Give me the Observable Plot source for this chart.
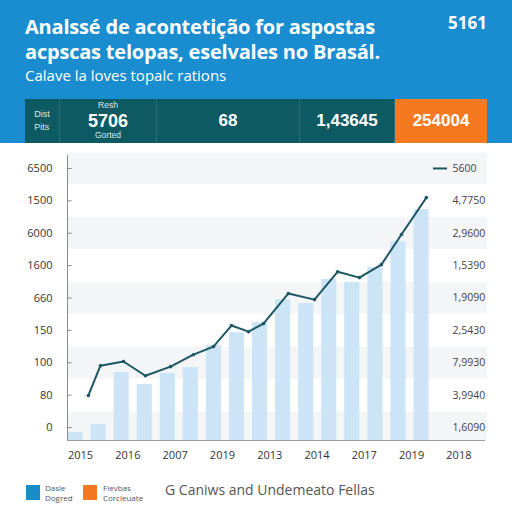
<!DOCTYPE html>
<html>
<head>
<meta charset="utf-8">
<script src="https://cdn.jsdelivr.net/npm/d3@7"></script>
<script src="https://cdn.jsdelivr.net/npm/@observablehq/plot@0.6"></script>
<style>
  html, body { margin: 0; padding: 0; background: #fff; }
  body { width: 512px; height: 512px; overflow: hidden; font-family: "Open Sans", "Liberation Sans", sans-serif; position: relative; }
  #header { position: absolute; left: 0; top: 0; width: 512px; height: 143px; background: #1a8dd0; }
  .t1 { position: absolute; left: 25px; color: #fff; font-weight: 700; font-size: 20px; white-space: nowrap; letter-spacing: -0.2px; }
  #sub { position: absolute; left: 25px; top: 65px; color: #fff; font-size: 15px; white-space: nowrap; }
  #num { position: absolute; left: 448px; top: 11px; color: #fff; font-weight: 700; font-size: 17px; }
  #stats { position: absolute; left: 25px; top: 99px; width: 462px; height: 44px; background: #0e5a63; }
  .cell { position: absolute; top: 0; height: 44px; display: flex; flex-direction: column; align-items: center; justify-content: center; color: #fff; border-right: 1px solid #2b7077; box-sizing: border-box; font-family: "Liberation Sans", Arial, sans-serif; }
  .small { font-size: 8.5px; line-height: 1.15; color: #d8ecee; }
  .big { font-size: 18px; font-weight: 700; line-height: 1.15; }
  #chart { position: absolute; left: 0; top: 143px; }
  #legend { position: absolute; left: 0; top: 478px; width: 512px; height: 34px; }
  .sw { position: absolute; top: 7px; width: 14px; height: 15px; }
  .lt { position: absolute; top: 5px; font-size: 8px; line-height: 10px; color: #555; }
  #lbig { position: absolute; left: 165px; top: 2px; font-size: 14px; color: #555; white-space: nowrap; }
</style>
</head>
<body>
<div id="header">
  <div class="t1" style="top:13px">Analssé de acontetição for aspostas</div>
  <div class="t1" style="top:38px">acpscas telopas, eselvales no Brasál.</div>
  <div id="sub">Calave la loves topalc rations</div>
  <div id="num">5161</div>
  <div id="stats"></div>
</div>
<div id="chart"></div>
<div id="legend">
  <div class="sw" style="left:26px;background:#1a8dc9"></div>
  <div class="lt" style="left:45px">Dasle<br>Dogred</div>
  <div class="sw" style="left:83px;background:#f47920"></div>
  <div class="lt" style="left:103px">Fievbas<br>Corcleuate</div>
  <div id="lbig">G Caniws and Undemeato Fellas</div>
</div>
<script>
// ---- data ----
const statCells = [
  {top: "Dist", main: "Pits", bottom: ""},
  {top: "Resh", main: "5706", bottom: "Gorted"},
  {top: "", main: "68", bottom: ""},
  {top: "", main: "1,43645", bottom: ""},
  {top: "", main: "254004", bottom: ""}
];
const statWidths = [35, 97, 143, 95, 92];
const barValues = [250, 490, 2100, 1730, 2070, 2250, 2930, 3330, 3640, 4350, 4230, 4970, 4880, 5340, 6140, 7130];
const lineX = [1.06, 1.58, 2.58, 3.53, 4.62, 5.61, 6.48, 7.26, 8.0, 8.65, 9.73, 10.86, 11.86, 12.81, 13.76, 14.63, 15.71];
const lineValues = [1390, 2310, 2440, 2000, 2280, 2650, 2900, 3550, 3360, 3610, 4540, 4350, 5210, 5030, 5430, 6360, 7500];
const leftTickLabels = ["0", "80", "100", "150", "660", "1600", "6000", "1500", "6500"];
const rightTickLabels = ["1,6090", "3,9940", "7,9930", "2,5430", "1,9090", "1,5390", "2,9600", "4,7750", "5600"];
const xTickLabels = ["2015", "2016", "2007", "2019", "2013", "2014", "2017", "2019", "2018"];

// ---- stat bar ----
const stats = document.getElementById("stats");
let left = 0;
statCells.forEach((c, i) => {
  const d = document.createElement("div");
  d.className = "cell";
  d.style.left = left + "px";
  d.style.width = statWidths[i] + "px";
  if (i === 4) { d.style.background = "#f47920"; d.style.borderRight = "none"; }
  if (i === 0) {
    d.innerHTML = `<div class="small" style="font-size:9px;line-height:13px">${c.top}<br>${c.main}</div>`;
  } else {
    d.innerHTML = (c.top ? `<div class="small">${c.top}</div>` : "") +
      `<div class="big" style="${i >= 2 ? 'font-size:17px;font-weight:' + (i === 2 ? 700 : 600) : ''}">${c.main}</div>` +
      (c.bottom ? `<div class="small">${c.bottom}</div>` : "");
  }
  stats.appendChild(d);
  left += statWidths[i];
});

// ---- chart ----
const xMin = 0.153, xMax = 18.36;
const tickVals = leftTickLabels.map((_, k) => 400 + 1000 * k);
const ticks = tickVals.map((v, k) => ({v, left: leftTickLabels[k], right: rightTickLabels[k]}));
const bands = tickVals.filter((_, k) => k % 2 === 0);
const bars = barValues.map((v, i) => ({i, v}));
const line = lineValues.map((v, i) => ({x: lineX[i], v}));
const xTicks = xTickLabels.map((t, j) => ({x: 0.72 + 2.05 * j, t}));
const uOf = px => 0.5 + (px - 75) / 23.07;

const chart = Plot.plot({
  width: 512, height: 330,
  marginTop: 12, marginBottom: 33, marginLeft: 67, marginRight: 25,
  x: {domain: [xMin, xMax], axis: null},
  y: {domain: [0, 8800], axis: null},
  style: {fontFamily: "'Open Sans', sans-serif", background: "transparent"},
  marks: [
    Plot.rect(bands, {x1: xMin, x2: uOf(487), y1: d => Math.max(0, d - 500), y2: d => d + 480, fill: "#f3f5f7"}),
    Plot.rect(bars, {x1: d => d.i, x2: d => d.i + 1, y1: 0, y2: "v", insetLeft: 4, insetRight: 4, fill: "#cbe5f6"}),
    Plot.line(line, {x: "x", y: "v", stroke: "#1d5763", strokeWidth: 2}),
    Plot.dot(line, {x: "x", y: "v", r: 1.8, fill: "#1d5763"}),
    Plot.ruleX([xMin], {y1: 0, y2: 8800, stroke: "#8a8a8a"}),
    Plot.ruleY([0], {x1: xMin, x2: uOf(485), stroke: "#9a9a9a"}),
    Plot.ruleY(tickVals, {x1: xMin, x2: xMin + 0.2, stroke: "#8a8a8a"}),
    Plot.text(ticks, {x: xMin, y: "v", text: "left", dx: -15, textAnchor: "end", fontSize: 11, fill: "#333"}),
    Plot.text(ticks, {x: uOf(452), y: "v", text: "right", textAnchor: "start", fontSize: 10.5, fill: "#444"}),
    Plot.ruleY([tickVals[8]], {x1: uOf(433), x2: uOf(447), stroke: "#1d5763", strokeWidth: 2}),
    Plot.text(xTicks, {x: "x", y: 0, text: "t", dy: 15, fontSize: 11, fill: "#333"})
  ]
});
document.getElementById("chart").appendChild(chart);
</script>
</body>
</html>
